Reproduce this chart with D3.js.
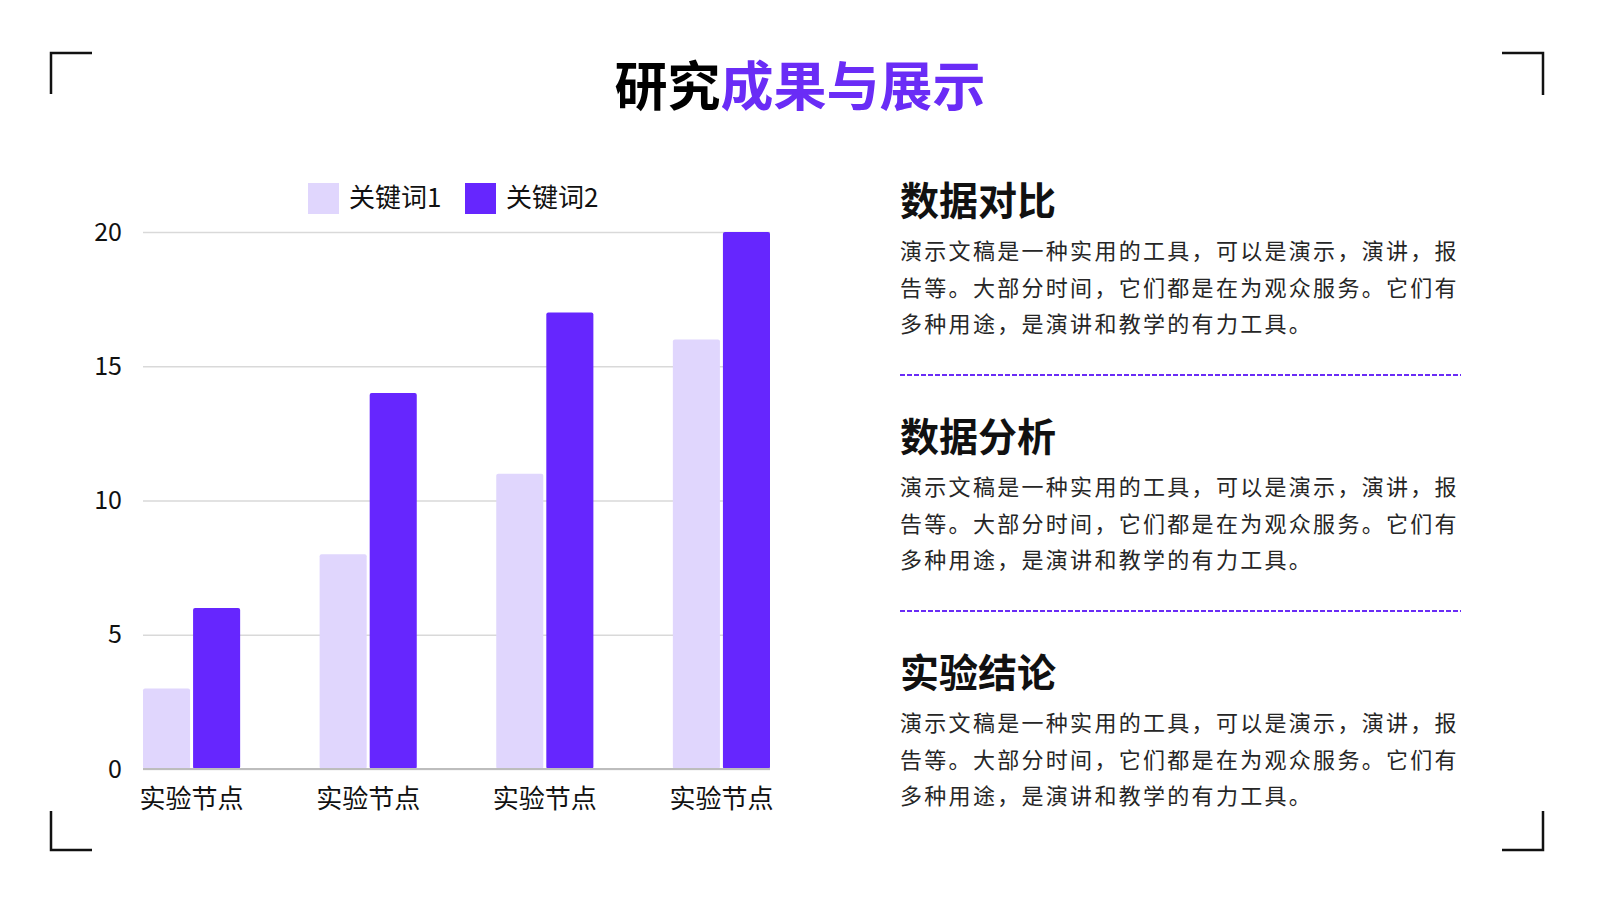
<!DOCTYPE html>
<html>
<head>
<meta charset="utf-8">
<script src="https://cdn.jsdelivr.net/npm/d3@7"></script>
<style>
  html, body { margin: 0; padding: 0; background: #fff; }
  svg { display: block; font-family: "Noto Sans CJK SC", "Noto Sans", sans-serif; }
</style>
</head>
<body>
<svg id="chart" width="1600" height="900"></svg>
<script>
var categories = ['实验节点', '实验节点', '实验节点', '实验节点'];
var seriesNames = ['关键词1', '关键词2'];
var series1 = [3, 8, 11, 16];
var series2 = [6, 14, 17, 20];
var yTicks = [0, 5, 10, 15, 20];

var headings = ['数据对比', '数据分析', '实验结论'];
var bodyLines = [
  '演示文稿是一种实用的工具，可以是演示，演讲，报',
  '告等。大部分时间，它们都是在为观众服务。它们有',
  '多种用途，是演讲和教学的有力工具。'
];

var colors = ['#e0d6fd', '#6626fe'];
var purple = '#6a2cf6';

var svg = d3.select('#chart');

// corner brackets
var corners = [
  'M51,94 V53 H92',
  'M1502,53 H1543 V95',
  'M51,811 V850 H92',
  'M1502,850 H1543 V811'
];
svg.selectAll('path.corner')
  .data(corners)
  .enter()
  .append('path')
  .attr('class', 'corner')
  .attr('d', function (d) { return d; })
  .attr('fill', 'none')
  .attr('stroke', '#111')
  .attr('stroke-width', 2.5);

// title
var title = svg.append('text')
  .attr('x', 800)
  .attr('y', 106)
  .attr('text-anchor', 'middle')
  .attr('font-size', 53)
  .attr('font-weight', 700);
title.append('tspan').attr('fill', '#000').text('研究');
title.append('tspan').attr('fill', purple).text('成果与展示');

// chart
var x0 = d3.scaleBand()
  .domain(d3.range(categories.length))
  .range([143, 770])
  .paddingInner(0.45)
  .paddingOuter(0);

var x1 = d3.scaleBand()
  .domain(d3.range(seriesNames.length))
  .range([0, x0.bandwidth()])
  .paddingInner(0.06);

var y = d3.scaleLinear()
  .domain([0, 20])
  .range([769, 232]);

var yAxis = svg.append('g')
  .attr('transform', 'translate(143,0)')
  .call(d3.axisLeft(y).tickValues(yTicks).tickSize(-627).tickPadding(21));
yAxis.select('.domain').remove();
yAxis.selectAll('.tick line')
  .attr('stroke', '#d9d9d9')
  .attr('stroke-width', 1.5);
yAxis.selectAll('.tick text')
  .attr('font-size', 25)
  .attr('fill', '#111')
  .attr('font-family', '"Noto Sans CJK SC", sans-serif');

var groups = svg.selectAll('g.group')
  .data(categories.map(function (c, i) { return [series1[i], series2[i]]; }))
  .enter()
  .append('g')
  .attr('class', 'group')
  .attr('transform', function (d, i) { return 'translate(' + x0(i) + ',0)'; });

groups.selectAll('rect')
  .data(function (d) { return d; })
  .enter()
  .append('rect')
  .attr('x', function (d, j) { return x1(j); })
  .attr('y', function (d) { return y(d); })
  .attr('width', x1.bandwidth())
  .attr('height', function (d) { return y(0) - y(d); })
  .attr('rx', 2)
  .attr('fill', function (d, j) { return colors[j]; });

// baseline
svg.append('line')
  .attr('x1', 143)
  .attr('x2', 770)
  .attr('y1', y(0))
  .attr('y2', y(0))
  .attr('stroke', '#bdbdbd')
  .attr('stroke-width', 2);

// category labels
svg.selectAll('text.cat')
  .data(categories)
  .enter()
  .append('text')
  .attr('class', 'cat')
  .attr('x', function (d, i) { return x0(i) + x0.bandwidth() / 2; })
  .attr('y', 808)
  .attr('text-anchor', 'middle')
  .attr('font-size', 26)
  .attr('fill', '#111')
  .text(function (d) { return d; });

// legend
var legendX = [308, 465];
var legend = svg.selectAll('g.legend')
  .data(seriesNames)
  .enter()
  .append('g')
  .attr('class', 'legend')
  .attr('transform', function (d, i) { return 'translate(' + legendX[i] + ',183)'; });
legend.append('rect')
  .attr('width', 31)
  .attr('height', 31)
  .attr('fill', function (d, i) { return colors[i]; });
legend.append('text')
  .attr('x', 41)
  .attr('y', 24)
  .attr('font-size', 26)
  .attr('fill', '#111')
  .text(function (d) { return d; });

// right text blocks
var blocks = svg.selectAll('g.block')
  .data(headings)
  .enter()
  .append('g')
  .attr('class', 'block')
  .attr('transform', function (d, i) { return 'translate(900,' + (i * 236) + ')'; });

blocks.append('text')
  .attr('y', 215)
  .attr('font-size', 39)
  .attr('font-weight', 700)
  .attr('fill', '#111')
  .text(function (d) { return d; });

blocks.selectAll('text.body')
  .data(bodyLines)
  .enter()
  .append('text')
  .attr('class', 'body')
  .attr('y', function (d, k) { return 259 + k * 36.5; })
  .attr('font-size', 22)
  .attr('letter-spacing', 2.3)
  .attr('fill', '#262626')
  .text(function (d) { return d; });

blocks.filter(function (d, i) { return i < headings.length - 1; })
  .append('line')
  .attr('x1', 0)
  .attr('x2', 561)
  .attr('y1', 375)
  .attr('y2', 375)
  .attr('stroke', purple)
  .attr('stroke-width', 1.8)
  .attr('stroke-dasharray', '5,2');
</script>
</body>
</html>
